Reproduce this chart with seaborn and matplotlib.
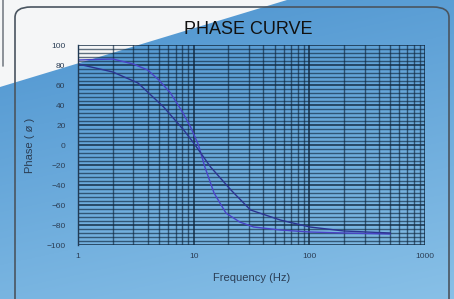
import numpy as np
import pandas as pd
import matplotlib
matplotlib.use("Agg")
import matplotlib.pyplot as plt
from matplotlib.patches import Polygon, FancyBboxPatch
from matplotlib.ticker import LogLocator, MultipleLocator, FixedLocator
import seaborn as sns

# ---- data ----
freq_a = [1, 2, 3, 4, 5, 6.3, 8, 9.4, 11, 12.5, 15, 19, 25, 33, 56, 100, 200, 500]
phase_a = [85, 86, 81, 75, 65, 52, 33, 18, 0, -22, -48, -68, -77, -82, -85, -87, -88, -89]
freq_b = [1, 2, 3.3, 5.5, 8.2, 10, 14, 21, 31, 56, 101, 200, 500]
phase_b = [81, 73, 62, 38, 15, 2, -22, -45, -65, -75, -82, -86, -88]
xticks = [1, 10, 100, 1000]
xtick_labels = ["1", "10", "100", "1000"]
yticks = [100, 80, 60, 40, 20, 0, -20, -40, -60, -80, -100]
title = "PHASE CURVE"
xlabel = "Frequency (Hz)"
ylabel = "Phase ( ø )"

df = pd.concat([
    pd.DataFrame({"f": freq_a, "phase": phase_a, "curve": "A"}),
    pd.DataFrame({"f": freq_b, "phase": phase_b, "curve": "B"}),
])

sns.set_style("white")
plt.rcParams["font.family"] = ["Liberation Sans", "DejaVu Sans"]

W, H = 454, 299
fig = plt.figure(figsize=(W / 100, H / 100), dpi=100)

# background gradient
bg = fig.add_axes([0, 0, 1, 1])
bg.set_axis_off()
yy, xx = np.mgrid[0:1:200j, 0:1:300j]
t = 0.25 * xx + 0.75 * yy
c0 = np.array([0x4c, 0x93, 0xcf]) / 255
c1 = np.array([0x88, 0xc0, 0xe7]) / 255
img = c0[None, None, :] * (1 - t[..., None]) + c1[None, None, :] * t[..., None]
bg.imshow(img, extent=[0, 1, 0, 1], aspect="auto", origin="upper")
bg.add_patch(Polygon([[0, 1 - 87 / H], [287 / W, 1], [0, 1]], closed=True,
                     facecolor="#f5f6f7", edgecolor="none"))
bg.add_patch(FancyBboxPatch((15 / W, -0.05), (449 - 15) / W, (1 - 7 / H) + 0.05,
                            boxstyle="round,pad=0,rounding_size=0.035",
                            facecolor="none", edgecolor="#4a5560", linewidth=1.2,
                            transform=bg.transAxes))
bg.plot([3 / W, 3 / W], [0.78, 1], color="#7a8088", lw=1.2)
bg.set_xlim(0, 1)
bg.set_ylim(0, 1)

ax = fig.add_axes([78 / W, 1 - 245 / H, (425 - 78) / W, (245 - 45) / H])
ax.patch.set_alpha(0)
sns.lineplot(data=df, x="f", y="phase", hue="curve",
             palette={"A": "#4a44c8", "B": "#2c3592"}, linewidth=1.0,
             legend=False, ax=ax, estimator=None, sort=False)
ax.set_xscale("log")
ax.set_xlim(1, 1000)
ax.set_ylim(-100, 100)
ax.xaxis.set_major_locator(FixedLocator(xticks))
ax.set_xticklabels(xtick_labels)
ax.xaxis.set_minor_locator(LogLocator(base=10, subs=np.arange(2, 10)))
ax.set_yticks(yticks)
ax.yaxis.set_minor_locator(MultipleLocator(4))
ax.grid(True, which="major", color="#10283f", alpha=0.8, linewidth=1.3)
ax.grid(True, which="minor", color="#10283f", alpha=0.65, linewidth=1.0)
ax.set_axisbelow(True)
for s in ["top", "right", "bottom"]:
    ax.spines[s].set_visible(False)
ax.spines["left"].set_color("#203a55")
ax.spines["left"].set_linewidth(1.0)
ax.tick_params(axis="both", which="major", labelsize=6, colors="#2c3e55",
               length=3, width=0.8, pad=6)
ax.tick_params(axis="x", which="major", length=0)
ax.tick_params(axis="both", which="minor", length=0)
ax.set_xlabel(xlabel, fontsize=8, color="#2c3e55", labelpad=9)
ax.set_ylabel(ylabel, fontsize=8, color="#2c3e55", labelpad=8)

fig.text(248 / W, 1 - 30 / H, title, ha="center", va="center",
         fontsize=13, color="#111111")

fig.savefig("out.png", dpi=100)
